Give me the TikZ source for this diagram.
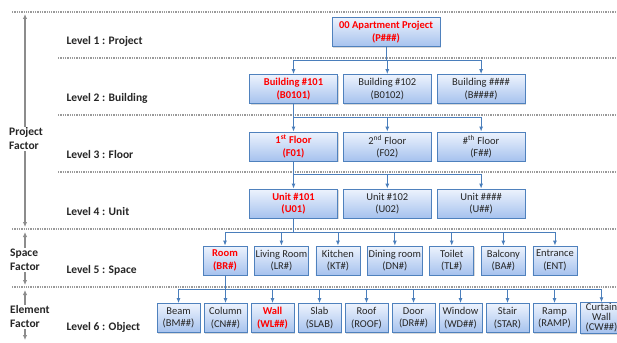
\documentclass[tikz,border=0pt]{standalone}
\usepackage{fontspec}
\setmainfont{Carlito}
\usetikzlibrary{arrows.meta,positioning,shadows}
\definecolor{ink}{HTML}{262626}
\definecolor{edge}{HTML}{4F81BD}
\definecolor{wire}{HTML}{4A7EBB}
\definecolor{boxtop}{HTML}{EDF3FD}
\definecolor{boxbot}{HTML}{A6C2EE}
\definecolor{hot}{HTML}{FF0000}
\definecolor{rule}{HTML}{9A9A9A}
\definecolor{axis}{HTML}{8C8C8C}
\tikzset{
  box/.style={draw=edge,line width=.8pt,top color=boxtop,bottom color=boxbot,
    minimum height=29pt,inner sep=1pt,align=center,text=ink,
    font=\fontsize{10.5}{12.5}\selectfont,
    drop shadow={shadow xshift=1pt,shadow yshift=-1.2pt,opacity=.3}},
  hot/.style={text=hot,font=\fontsize{10.5}{12.5}\selectfont\bfseries},
  wide/.style={box,minimum width=88pt},
  mid/.style={box,minimum width=44pt},
  slim/.style={box,minimum width=43pt},
  link/.style={-{Latex[length=5pt,width=4pt]},line width=.9pt,draw=wire},
  level/.style={anchor=west,font=\fontsize{11.5}{13}\selectfont\bfseries,text=ink},
  factor/.style={anchor=west,fill=white,align=left,inner sep=1pt,
    font=\fontsize{11.5}{14}\selectfont\bfseries,text=ink},
  divider/.style={draw=rule,line width=1.3pt,dash pattern=on 1.3pt off 1pt},
  span/.style={{Latex[length=5pt,width=4.5pt]}-{Latex[length=5pt,width=4.5pt]},
    line width=1.8pt,draw=axis}
}
\begin{document}
\begin{tikzpicture}[x=1pt,y=-1pt]
\useasboundingbox (0,0) rectangle (617,342);

% level dividers and factor axis
\foreach \y/\x in {12/12,58/58,115/58,172/58,229/12,287/12}
  \draw[divider] (\x,\y) -- (617,\y);
\draw[span] (25,14) -- (25,227);
\draw[span] (25,232) -- (25,285);
\draw[span] (25,290) -- (25,340);
\node[factor] (fproj) at (8,139) {Project\\Factor};
\node[factor] (fspace) at (9,260) {Space\\Factor};
\node[factor] (felem) at (9,317) {Element\\Factor};

\node[level] (lv1) at (63,41) {Level 1 : Project};
\node[level] (lv2) at (63,98) {Level 2 : Building};
\node[level] (lv3) at (63,155) {Level 3 : Floor};
\node[level] (lv4) at (63,212) {Level 4 : Unit};
\node[level] (lv5) at (63,270) {Level 5 : Space};
\node[level] (lv6) at (63,327) {Level 6 : Object};

% levels 1-4
\node[wide,hot,minimum width=108pt] (proj) at (386,32) {00 Apartment Project\\(P\#\#\#)};
\node[wide,hot] (bldA) at (293.5,89) {Building \#101\\(B0101)};
\node[wide,right=5pt of bldA] (bldB) {Building \#102\\(B0102)};
\node[wide,right=5pt of bldB] (bldC) {Building \#\#\#\#\\(B\#\#\#\#)};
\node[wide,hot] (flrA) at (293.5,146.5) {1\textsuperscript{st} Floor\\(F01)};
\node[wide,right=5pt of flrA] (flrB) {2\textsuperscript{nd} Floor\\(F02)};
\node[wide,right=5pt of flrB] (flrC) {\#\textsuperscript{th} Floor\\(F\#\#)};
\node[wide,hot] (untA) at (293.5,203.5) {Unit \#101\\(U01)};
\node[wide,right=5pt of untA] (untB) {Unit \#102\\(U02)};
\node[wide,right=5pt of untB] (untC) {Unit \#\#\#\#\\(U\#\#)};

% level 5
\node[mid,hot] (room) at (225,260.5) {Room\\(BR\#)};
\node[mid,right=6.8pt of room] (living) {Living Room\\(LR\#)};
\node[mid,right=6.8pt of living] (kitchen) {Kitchen\\(KT\#)};
\node[mid,right=6.8pt of kitchen] (dining) {Dining room\\(DN\#)};
\node[mid,right=6.8pt of dining] (toilet) {Toilet\\(TL\#)};
\node[mid,right=6.8pt of toilet] (balcony) {Balcony\\(BA\#)};
\node[mid,right=6.8pt of balcony] (entrance) {Entrance\\(ENT)};

% level 6
\node[slim] (beam) at (178.5,318) {Beam\\(BM\#\#)};
\node[slim,right=3.2pt of beam] (column) {Column\\(CN\#\#)};
\node[slim,hot,right=3.2pt of column] (wall) {Wall\\(WL\#\#)};
\node[slim,right=3.2pt of wall] (slab) {Slab\\(SLAB)};
\node[slim,right=3.2pt of slab] (roof) {Roof\\(ROOF)};
\node[slim,right=3.2pt of roof] (door) {Door\\(DR\#\#)};
\node[slim,right=3.2pt of door] (window) {Window\\(WD\#\#)};
\node[slim,right=3.2pt of window] (stair) {Stair\\(STAR)};
\node[slim,right=3.2pt of stair] (ramp) {Ramp\\(RAMP)};
\node[slim,right=3.2pt of ramp,font=\fontsize{10.5}{10}\selectfont] (curtain) {Curtain\\Wall\\(CW\#\#)};

% tree links
\foreach \t in {bldA,bldB,bldC}
  \draw[link] (proj.south) -- ++(0,14) -| (\t.north);
\foreach \t in {flrA,flrB,flrC}
  \draw[link] (bldA.south) -- ++(0,14) -| (\t.north);
\foreach \t in {untA,untB,untC}
  \draw[link] (flrA.south) -- ++(0,13) -| (\t.north);
\foreach \t in {room,living,kitchen,dining,toilet,balcony,entrance}
  \draw[link] (untA.south) -- ++(0,14) -| (\t.north);
\foreach \t in {beam,column,wall,slab,roof,door,window,stair,ramp,curtain}
  \draw[link] (room.south) -- ++(0,14) -| (\t.north);
\end{tikzpicture}
\end{document}
